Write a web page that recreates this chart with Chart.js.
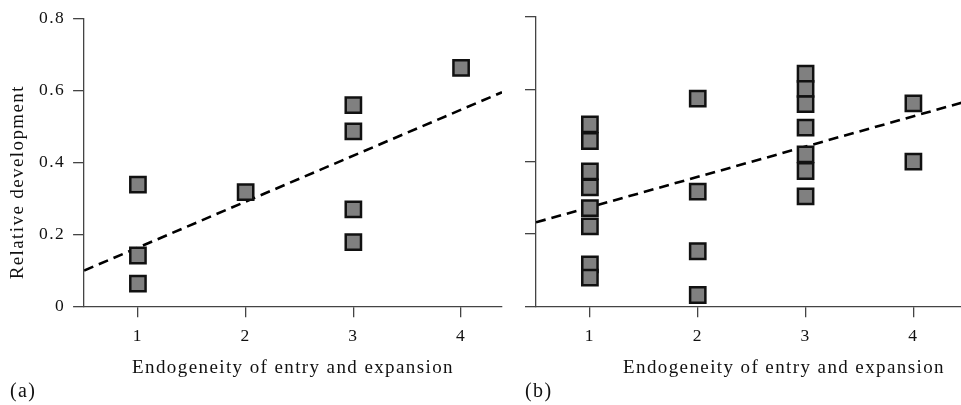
<!DOCTYPE html>
<html>
<head>
<meta charset="utf-8">
<script src="https://cdn.jsdelivr.net/npm/chart.js@4.4.1/dist/chart.umd.min.js"></script>
<style>
  html, body { margin: 0; padding: 0; background: #fff; overflow: hidden; }
  #wrap { position: relative; width: 961px; height: 405px; overflow: hidden; }
  canvas { position: absolute; top: 0; }
  #chartA { left: 0; }
  #chartB { left: 505px; }
</style>
</head>
<body>
<div id="wrap">
  <canvas id="chartA" width="505" height="405"></canvas>
  <canvas id="chartB" width="527" height="405"></canvas>
</div>
<script>
'use strict';

// ── Données ─────────────────────────────────────────────────
const X_TICKS = [1, 2, 3, 4];
const Y_TICKS = [0, 0.2, 0.4, 0.6, 0.8];

// panneau (a)
const A_X = [1, 1, 1, 2, 3, 3, 3, 3, 4];
const A_Y = [0.338, 0.141, 0.063, 0.317, 0.559, 0.486, 0.269, 0.178, 0.663];
const A_FIT_X = [0.5, 4.38];
const A_FIT_Y = [0.099, 0.595];

// panneau (b)
const B_X = [1, 1, 1, 1, 1, 1, 1, 1, 2, 2, 2, 2, 3, 3, 3, 3, 3, 3, 3, 4, 4];
const B_Y = [0.503, 0.457, 0.373, 0.329, 0.271, 0.221, 0.116, 0.079,
             0.574, 0.317, 0.152, 0.031,
             0.643, 0.601, 0.559, 0.494, 0.420, 0.374, 0.304,
             0.561, 0.400];
const B_FIT_X = [0.5, 4.46];
const B_FIT_Y = [0.232, 0.564];

const X_TITLE = 'Endogeneity of entry and expansion';
const Y_TITLE = 'Relative development';

const FONT = "'Liberation Serif', 'Times New Roman', serif";
const INK = '#111';
const AXIS = '#444';
const SPACING = '1.4px';

const toPts = (xs, ys) => xs.map((x, i) => ({ x, y: ys[i] }));

// espacement des lettres + textes hors axes (titre Y, étiquette de panneau)
const figureText = {
  id: 'figureText',
  beforeLayout(chart) { chart.ctx.letterSpacing = SPACING; },
  beforeDraw(chart) { chart.ctx.letterSpacing = SPACING; },
  afterDraw(chart, args, opts) {
    const { ctx, chartArea } = chart;
    ctx.save();
    ctx.letterSpacing = SPACING;
    ctx.fillStyle = INK;
    if (opts.yTitle) {
      ctx.font = `19px ${FONT}`;
      ctx.textAlign = 'center';
      ctx.textBaseline = 'middle';
      ctx.translate(opts.yTitleX, chartArea.bottom - 124);
      ctx.rotate(-Math.PI / 2);
      ctx.fillText(opts.yTitle, 0, 0);
      ctx.setTransform(1, 0, 0, 1, 0, 0);
    }
    if (opts.label) {
      ctx.font = `20px ${FONT}`;
      ctx.textAlign = 'left';
      ctx.textBaseline = 'middle';
      ctx.fillText(opts.label, opts.labelX, 392);
    }
    ctx.restore();
  },
};

function makePanel(canvasId, xs, ys, fitX, fitY, xMax, opts) {
  const ctx = document.getElementById(canvasId).getContext('2d');
  return new Chart(ctx, {
    type: 'scatter',
    data: {
      datasets: [
        {
          data: toPts(xs, ys),
          pointStyle: 'rect',
          pointRadius: 10.8,
          pointBorderWidth: 2.5,
          pointBackgroundColor: '#808080',
          pointBorderColor: '#111',
          order: 1,
        },
        {
          data: toPts(fitX, fitY),
          showLine: true,
          pointRadius: 0,
          borderColor: '#000',
          borderWidth: 2.6,
          borderDash: [10, 6],
          order: 2,
        },
      ],
    },
    options: {
      responsive: false,
      animation: false,
      events: [],
      layout: {
        autoPadding: false,
        padding: { top: 17, left: opts.padLeft, right: opts.padRight, bottom: 26 },
      },
      plugins: {
        legend: { display: false },
        tooltip: { enabled: false },
        figureText: opts.text,
      },
      scales: {
        x: {
          type: 'linear',
          min: 0.5,
          max: xMax,
          afterBuildTicks: s => { s.ticks = X_TICKS.map(v => ({ value: v })); },
          border: { color: AXIS, width: 1.3 },
          grid: { drawOnChartArea: false, tickLength: 11, color: AXIS, lineWidth: 1.3 },
          ticks: { color: INK, padding: 9, font: { family: FONT, size: 17.5 } },
          title: {
            display: true,
            text: X_TITLE,
            color: INK,
            padding: 0,
            font: { family: FONT, size: 19 },
          },
        },
        y: {
          type: 'linear',
          min: 0,
          max: 0.8,
          afterBuildTicks: s => { s.ticks = Y_TICKS.map(v => ({ value: v })); },
          border: { color: AXIS, width: 1.3 },
          grid: { drawOnChartArea: false, tickLength: 11, color: AXIS, lineWidth: 1.3 },
          ticks: {
            display: opts.showYLabels,
            color: INK,
            padding: 8,
            font: { family: FONT, size: 17.5 },
          },
        },
      },
    },
    plugins: [figureText],
  });
}

makePanel('chartA', A_X, A_Y, A_FIT_X, A_FIT_Y, 4.38, {
  padLeft: 31,
  padRight: 3,
  showYLabels: true,
  text: { yTitle: Y_TITLE, yTitleX: 18, label: '(a)', labelX: 10 },
});

makePanel('chartB', B_X, B_Y, B_FIT_X, B_FIT_Y, 5.1, {
  padLeft: 20,
  padRight: 0,
  showYLabels: false,
  text: { label: '(b)', labelX: 20 },
});
</script>
</body>
</html>
